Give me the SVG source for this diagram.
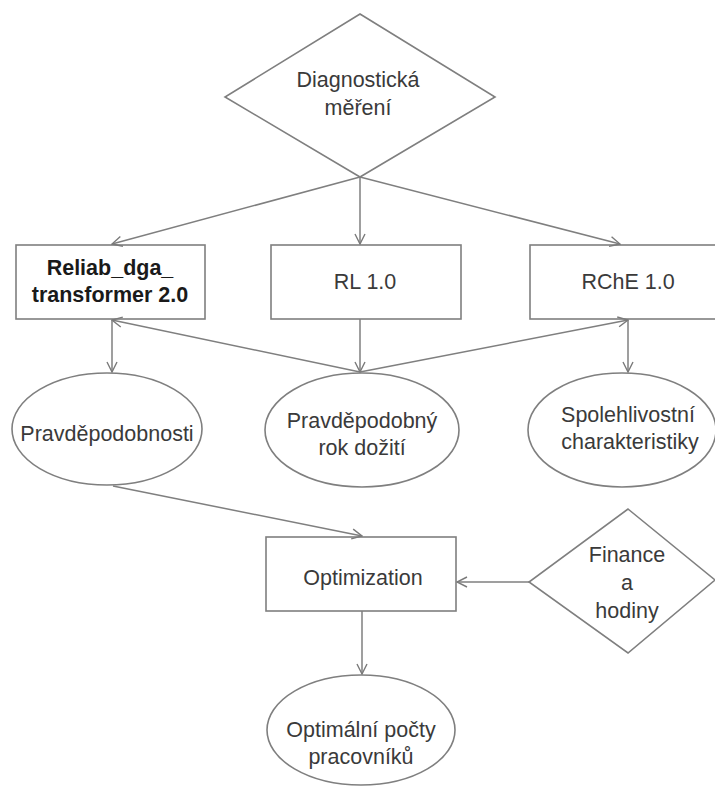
<svg xmlns="http://www.w3.org/2000/svg" width="715" height="786" viewBox="0 0 715 786">
<defs>
<marker id="arr" viewBox="0 0 12 12" refX="11" refY="6" markerWidth="12" markerHeight="12" markerUnits="userSpaceOnUse" orient="auto">
<path d="M1,1 L11,6 L1,11" fill="none" stroke="#7a7a7a" stroke-width="1.4"/>
</marker>
<style>
.shape{fill:#ffffff;stroke:#7f7f7f;stroke-width:1.6}
.conn line{stroke:#7f7f7f;stroke-width:1.5;marker-end:url(#arr)}
text{font-family:"Liberation Sans",Arial,sans-serif;font-size:21.5px;fill:#3a3a3a;text-anchor:middle}
.b{font-weight:bold;fill:#1a1a1a}
</style>
</defs>
<rect width="715" height="786" fill="#ffffff"/>
<g id="diag">
<polygon class="shape" points="360,14 495,97 360,177 225,97"/>
<text x="358" y="87">Diagnostická</text>
<text x="358" y="115">měření</text>
</g>
<g id="reliab">
<rect class="shape" x="16" y="245" width="189" height="74"/>
<text class="b" x="110" y="275">Reliab_dga_</text>
<text class="b" x="110" y="302">transformer 2.0</text>
</g>
<g id="rl">
<rect class="shape" x="271" y="245" width="190" height="74"/>
<text x="365" y="289">RL 1.0</text>
</g>
<g id="rche">
<rect class="shape" x="530" y="245" width="195" height="74"/>
<text x="628" y="289">RChE 1.0</text>
</g>
<g id="pravdepodobnosti">
<ellipse class="shape" cx="107" cy="429" rx="95" ry="56"/>
<text x="107" y="441">Pravděpodobnosti</text>
</g>
<g id="rok">
<ellipse class="shape" cx="362" cy="430" rx="97" ry="57"/>
<text x="362" y="428">Pravděpodobný</text>
<text x="362" y="455">rok dožití</text>
</g>
<g id="spolehlivost">
<ellipse class="shape" cx="622" cy="430" rx="94" ry="57"/>
<text x="628" y="422">Spolehlivostní</text>
<text x="630" y="449">charakteristiky</text>
</g>
<g id="optimization">
<rect class="shape" x="266" y="537" width="190" height="74"/>
<text x="363" y="585">Optimization</text>
</g>
<g id="finance">
<polygon class="shape" points="628,509 715,580 628,653 529,582"/>
<text x="627" y="562">Finance</text>
<text x="627" y="590">a</text>
<text x="627" y="618">hodiny</text>
</g>
<g id="optimalni">
<ellipse class="shape" cx="361" cy="730" rx="94" ry="55"/>
<text x="361" y="737">Optimální počty</text>
<text x="361" y="764">pracovníků</text>
</g>
<g id="connectors" class="conn">
<line x1="360" y1="177" x2="112" y2="244"/>
<line x1="360" y1="177" x2="360" y2="244"/>
<line x1="360" y1="177" x2="620" y2="244"/>
<line x1="360" y1="319" x2="360" y2="372"/>
<line x1="360" y1="372" x2="112" y2="320"/>
<line x1="360" y1="372" x2="628" y2="320"/>
<line x1="112" y1="320" x2="112" y2="372"/>
<line x1="628" y1="320" x2="628" y2="372"/>
<line x1="113" y1="486" x2="362" y2="536"/>
<line x1="529" y1="582" x2="457" y2="582"/>
<line x1="362" y1="611" x2="362" y2="674"/>
</g>
</svg>
